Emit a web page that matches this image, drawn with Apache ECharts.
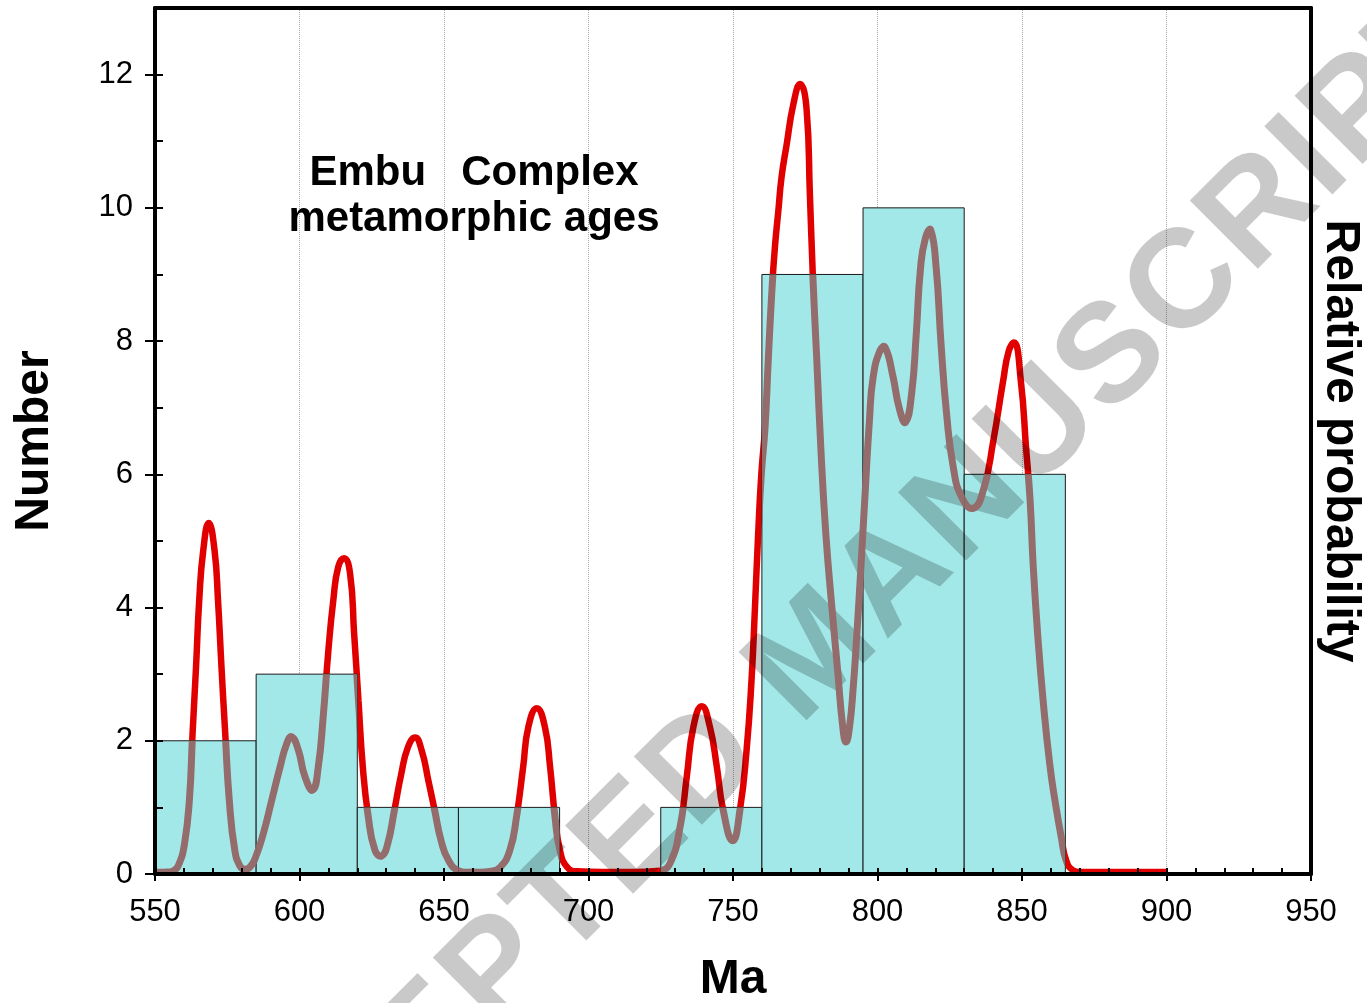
<!DOCTYPE html>
<html>
<head>
<meta charset="utf-8">
<title>Embu Complex metamorphic ages</title>
<script src="https://cdn.jsdelivr.net/npm/echarts@6/dist/echarts.min.js"></script>
<style>
html, body { margin: 0; padding: 0; background: #fff; }
#main { width: 1367px; height: 1003px; }
</style>
</head>
<body>
<div id="main"></div>
<script>
// histogram bins (Ma) and counts
var binEdges = [550, 585, 620, 655, 690, 725, 760, 795, 830, 865];
var binCounts = [2, 3, 1, 1, 0, 1, 9, 10, 6];

// relative probability curve, read in "Number" units
var curveAge = [550, 554, 556.5, 558.3, 560.2, 561.9, 563.0, 564.2, 565.3, 566.7, 568.6, 570.6, 571.8, 573.0, 574.3, 575.7, 577.6, 579.4, 581.1, 583.0,
  584.8, 587.5, 590.4, 593.3, 595.6, 597.3, 599.6, 601.9, 604.6, 606.5, 608.2, 610.0, 611.7, 613.4, 615.4, 617.5, 618.9, 620.4, 621.9, 623.8,
  626.1, 628.4, 630.5, 632.8, 635.2, 637.5, 640.0, 642.3, 644.6, 646.8, 649.0, 651.5, 655.0, 660.0, 665.9, 669.4, 672.8, 675.1, 677.4, 679.2,
  682.1, 684.9, 686.7, 688.4, 690.1, 692.5, 696.0, 705, 715, 724.7, 728.2, 731.7, 734.0, 736.3, 739.2, 742.0, 744.4, 746.6, 749.9, 752.4,
  754.7, 756.4, 757.6, 758.7, 759.8, 761.1, 762.2, 763.4, 764.5, 765.7, 766.8, 768.6, 770.9, 773.2, 775.5, 776.6, 777.6, 779.0, 780.5, 782.2,
  784.1, 786.2, 788.0, 789.1, 790.3, 791.6, 792.8, 794.2, 795.7, 797.2, 798.5, 800.9, 802.6, 805.2, 807.6, 809.7, 811.8, 813.4, 814.9, 816.6,
  818.4, 820.3, 822.0, 823.9, 826.2, 829.1, 833.1, 836.6, 840.1, 843.5, 845.4, 847.2, 849.6, 851.4, 852.8, 853.9, 855.4, 857.3, 859.6, 861.6,
  863.6, 865.3, 867.5, 870, 880, 900];
var curveProb = [0.03, 0.03, 0.05, 0.15, 0.45, 1.11, 2.11, 3.11, 4.11, 4.86, 5.27, 4.86, 4.11, 3.11, 2.11, 1.11, 0.36, 0.12, 0.07, 0.11,
  0.25, 0.61, 1.11, 1.61, 1.96, 2.06, 1.86, 1.46, 1.26, 1.61, 2.36, 3.36, 4.11, 4.61, 4.74, 4.51, 3.61, 2.61, 1.61, 0.86,
  0.36, 0.27, 0.45, 0.95, 1.5, 1.9, 2.05, 1.85, 1.4, 0.95, 0.5, 0.21, 0.05, 0.03, 0.04, 0.1, 0.36, 0.86, 1.61, 2.21,
  2.49, 2.21, 1.61, 0.86, 0.36, 0.11, 0.04, 0.03, 0.03, 0.05, 0.16, 0.71, 1.46, 2.21, 2.52, 2.21, 1.61, 0.96, 0.5, 0.96,
  1.86, 2.9, 4.0, 5.1, 6.0, 6.71, 7.71, 8.71, 9.41, 9.96, 10.46, 10.96, 11.56, 11.86, 11.46, 10.21, 9.01, 7.71, 6.3, 5.06,
  4.06, 3.06, 2.2, 1.98, 2.2, 2.8, 3.56, 4.56, 5.7, 6.8, 7.46, 7.86, 7.91, 7.5, 6.98, 6.78, 7.21, 8.1, 9.1, 9.55,
  9.67, 9.1, 7.95, 6.91, 6.11, 5.66, 5.49, 5.76, 6.51, 7.41, 7.85, 7.98, 7.4, 6.4, 5.61, 4.61, 3.61, 2.61, 1.65, 1.05,
  0.55, 0.2, 0.06, 0.03, 0.03, 0.03];

var FONT = '"Liberation Sans", Arial, sans-serif';

var bins = binCounts.map(function (c, i) { return [binEdges[i], binEdges[i + 1], c]; });
var curve = curveAge.map(function (a, i) { return [a, curveProb[i]]; });

function binRect(api) {
  var p0 = api.coord([api.value(0), api.value(2)]);
  var p1 = api.coord([api.value(1), 0]);
  return { x: p0[0], y: p0[1], width: p1[0] - p0[0], height: p1[1] - p0[1] };
}

// watermark letters laid out along a diagonal
var wmText = 'ACCEPTED MANUSCRIPT';
var wmWidth = { A: .722, C: .722, E: .667, P: .667, T: .611, D: .722, ' ': .278, M: .833, N: .722, U: .722, S: .667, R: .722, I: .278 };
var wmSize = 140, wmGap = 4, wmAng = Math.PI / 4;
var wmAlong = [], acc = 0;
for (var i = 0; i < wmText.length; i++) {
  var w = wmWidth[wmText[i]] * wmSize;
  wmAlong.push(acc + w / 2);
  acc += w + wmGap;
}
var wmElements = [];
for (var j = 0; j < wmText.length; j++) {
  if (wmText[j] === ' ') continue;
  var d = wmAlong[j] - wmAlong[4];
  wmElements.push({
    type: 'text', z: 4, silent: true,
    x: 500 + d * Math.cos(wmAng), y: 972 - d * Math.sin(wmAng),
    rotation: wmAng,
    style: { text: wmText[j], font: 'bold ' + wmSize + 'px ' + FONT, fill: 'rgba(0,0,0,0.21)',
      align: 'center', verticalAlign: 'middle', textAlign: 'center', textVerticalAlign: 'middle' }
  });
}

var myChart = echarts.init(document.getElementById('main'));
var nameStyle = { fontSize: 48, fontWeight: 'bold', color: '#000', fontFamily: FONT };

option = {
  backgroundColor: '#fff',
  animation: false,
  grid: { left: 155, right: 56, top: 8, bottom: 129, outerBoundsMode: 'none' },
  xAxis: [{
    type: 'value', min: 550, max: 950, interval: 50, position: 'bottom',
    axisLine: { show: false, onZero: false },
    axisTick: { show: true, length: 7, lineStyle: { color: '#000', width: 2 } },
    axisLabel: { fontSize: 31, color: '#000', margin: 23, fontFamily: FONT },
    splitLine: { show: true, lineStyle: { color: '#a8a8a8', type: 'dotted', width: 1 } },
    name: 'Ma', nameLocation: 'middle', nameGap: 82, nameTextStyle: nameStyle
  }, {
    type: 'value', min: 550, max: 950, interval: 10, position: 'bottom', z: 10,
    axisLine: { show: true, onZero: false, lineStyle: { color: '#000', width: 4 } },
    axisTick: { show: true, inside: true, length: 6, lineStyle: { color: '#000', width: 2 } },
    axisLabel: { show: false }, splitLine: { show: false }
  }, {
    type: 'value', min: 550, max: 950, position: 'top', z: 10,
    axisLine: { show: true, onZero: false, lineStyle: { color: '#000', width: 4 } },
    axisTick: { show: false }, axisLabel: { show: false }, splitLine: { show: false }
  }],
  yAxis: [{
    type: 'value', min: 0, max: 13, interval: 2, position: 'left',
    axisLine: { show: false, onZero: false },
    axisTick: { show: true, length: 10, lineStyle: { color: '#000', width: 2 } },
    axisLabel: { fontSize: 31, color: '#000', margin: 22, fontFamily: FONT, showMaxLabel: false },
    splitLine: { show: false },
    name: 'Number', nameLocation: 'middle', nameGap: 96, nameRotate: 90, nameTextStyle: nameStyle
  }, {
    type: 'value', min: 0, max: 13, interval: 1, position: 'left', z: 10,
    axisLine: { show: true, onZero: false, lineStyle: { color: '#000', width: 4 } },
    axisTick: { show: true, inside: true, length: 8, lineStyle: { color: '#000', width: 2 } },
    axisLabel: { show: false }, splitLine: { show: false }
  }, {
    type: 'value', min: 0, max: 13, position: 'right', z: 10,
    axisLine: { show: true, onZero: false, lineStyle: { color: '#000', width: 4 } },
    axisTick: { show: false }, axisLabel: { show: false }, splitLine: { show: false },
    name: 'Relative probability', nameLocation: 'middle', nameGap: 5, nameRotate: -90, nameTextStyle: nameStyle
  }],
  graphic: [{
    type: 'text', x: 474, y: 173, z: 6,
    style: { text: 'Embu   Complex', font: 'bold 42px ' + FONT, fill: '#000',
      align: 'center', verticalAlign: 'middle', textAlign: 'center', textVerticalAlign: 'middle' }
  }, {
    type: 'text', x: 474, y: 219, z: 6,
    style: { text: 'metamorphic ages', font: 'bold 42px ' + FONT, fill: '#000',
      align: 'center', verticalAlign: 'middle', textAlign: 'center', textVerticalAlign: 'middle' }
  }].concat(wmElements),
  series: [{
    // probability curve (red where it runs over white)
    type: 'line', z: 2, silent: true,
    data: curve, smooth: 0.5, symbol: 'none',
    lineStyle: { color: '#e00000', width: 6.5 }
  }, {
    // histogram bars
    type: 'custom', z: 3, silent: true,
    data: bins,
    renderItem: function (params, api) {
      return { type: 'rect', shape: binRect(api),
        style: { fill: '#a3e8e8', stroke: '#1a1a1a', lineWidth: 1 } };
    }
  }, {
    // same curve seen through the bars (clipped to each bar)
    type: 'custom', z: 5, silent: true,
    data: bins,
    renderItem: function (params, api) {
      var pts = curve.map(function (p) { return api.coord(p); });
      return {
        type: 'polyline',
        shape: { points: pts, smooth: 0.5 },
        style: { stroke: '#946c6c', lineWidth: 7, fill: 'none', lineJoin: 'round' },
        clipPath: { type: 'rect', shape: binRect(api) }
      };
    }
  }]
};

myChart.setOption(option);
window.addEventListener("resize", function () {
  myChart.resize();
});
</script>
</body>
</html>
